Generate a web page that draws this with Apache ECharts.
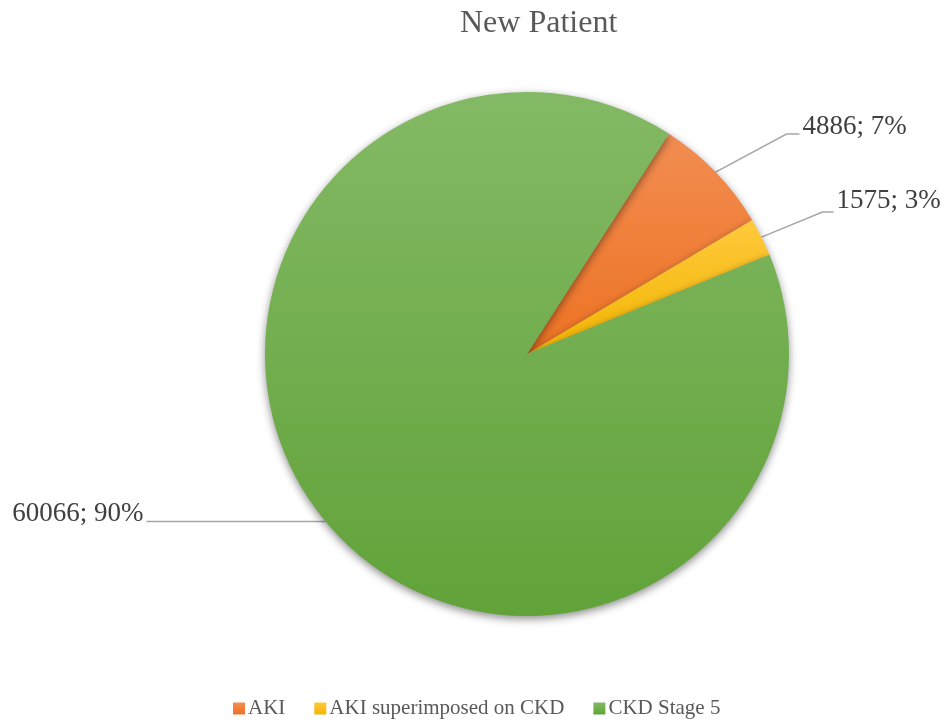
<!DOCTYPE html>
<html>
<head>
<meta charset="utf-8">
<script src="https://cdn.jsdelivr.net/npm/echarts@6/dist/echarts.min.js"></script>
<style>
html,body{margin:0;padding:0;background:#fff;}
#chart{width:945px;height:723px;}
</style>
</head>
<body>
<div id="chart"></div>
<script>
// ---- data ----
const categories = ['AKI', 'AKI superimposed on CKD', 'CKD Stage 5'];
const values = [4886, 1575, 60066];
const percentLabels = ['7%', '3%', '90%'];
const chartTitle = 'New Patient';

// ---- styles ----
const gradients = [
  ['#f28d52', '#ed7222'],
  ['#ffc93c', '#f2b500'],
  ['#83b964', '#61a239']
];
// label leader-line offsets relative to the slice anchor supplied by ECharts
const leader = [
  { elbow: [71, -38], tail: 13, align: 'left', dy: -7 },
  { elbow: [61, -25], tail: 11, align: 'left', dy: -11 },
  { elbow: [-179, 0], tail: 0, align: 'right', dy: -8 }
];
const FONT = 'Liberation Serif';

const chart = echarts.init(document.getElementById('chart'));
const data = categories.map((name, i) => ({
  name,
  value: values[i],
  itemStyle: {
    color: {
      type: 'linear', x: 0, y: 0, x2: 0, y2: 1,
      colorStops: [
        { offset: 0, color: gradients[i][0] },
        { offset: 1, color: gradients[i][1] }
      ]
    }
  }
}));

chart.setOption({
  animation: false,
  backgroundColor: '#ffffff',
  title: {
    text: chartTitle,
    left: 455,
    top: 3,
    textStyle: { fontFamily: FONT, fontSize: 32, fontWeight: 'normal', color: '#595959' }
  },
  legend: {
    left: 228,
    top: 693,
    icon: 'rect',
    itemWidth: 12,
    itemHeight: 12,
    itemGap: 29,
    textStyle: { fontFamily: FONT, fontSize: 21, color: '#595959', padding: [0, 0, 0, -2] },
    data: categories
  },
  series: [{
    type: 'pie',
    center: [527, 354],
    radius: 262,
    startAngle: 57.2,
    clockwise: true,
    avoidLabelOverlap: false,
    itemStyle: {
      shadowBlur: 8,
      shadowOffsetY: 3,
      shadowColor: 'rgba(0,0,0,0.45)'
    },
    label: {
      show: true,
      position: 'outside',
      fontFamily: FONT,
      fontSize: 27,
      color: '#404040',
      formatter: p => values[p.dataIndex] + '; ' + percentLabels[p.dataIndex]
    },
    labelLine: {
      show: true,
      length: 20,
      length2: 10,
      lineStyle: { color: '#a6a6a6', width: 1.5 }
    },
    labelLayout: function (params) {
      const cfg = leader[params.dataIndex];
      const pts = params.labelLinePoints;
      if (!pts || !pts.length) return {};
      const a = pts[0];
      const e = [a[0] + cfg.elbow[0], a[1] + cfg.elbow[1]];
      const sign = cfg.align === 'left' ? 1 : -1;
      const t = [e[0] + sign * cfg.tail, e[1]];
      return {
        x: t[0] + sign * 3,
        y: t[1] + cfg.dy,
        align: cfg.align,
        verticalAlign: 'middle',
        labelLinePoints: [a, e, t]
      };
    },
    data: data
  }]
});
</script>
</body>
</html>
